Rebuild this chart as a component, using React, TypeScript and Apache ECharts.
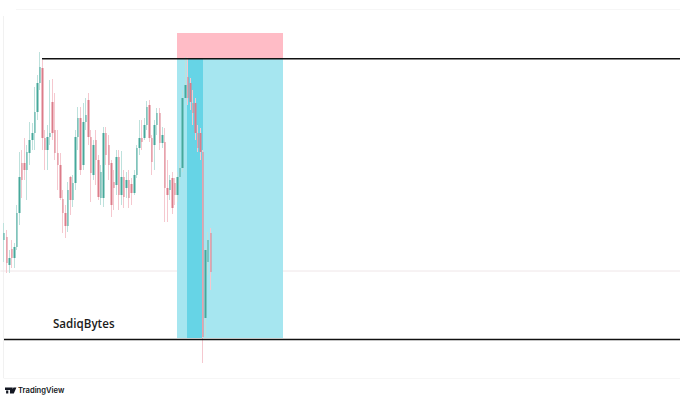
import React, { useEffect, useRef } from "react";
import * as echarts from "echarts";

// [open, close, low, high] for each session, in chart points
const candles: number[][] = [
  [160,167,138,177],[163,137,127,170],[135,142,127,150],[151,142,132,160],[142,153,132,157],
  [153,187,150,195],[187,223,175,248],[237,220,202,250],[237,230,220,262],[230,248,200,255],
  [247,260,235,278],[260,267,250,277],[267,288,250,313],[288,317,280,325],[317,333,310,348],
  [332,262,250,340],[262,250,230,270],[250,263,230,275],[263,267,255,320],[298,267,260,321],
  [270,247,240,307],[247,235,210,270],[235,202,200,247],[201,187,167,210],[187,174,162,195],
  [174,210,168,218],[223,200,185,224],[200,217,193,225],[217,263,210,270],[263,282,250,293],
  [282,230,225,293],[235,278,230,297],[278,285,270,302],[300,263,255,307],[263,227,198,270],
  [225,255,220,260],[260,240,215,270],[240,203,200,245],[202,228,195,235],[202,267,193,273],
  [267,245,235,273],[255,235,220,265],[237,195,183,240],[218,212,190,230],[215,243,205,250],
  [243,205,190,250],[205,223,195,249],[223,203,192,230],[212,220,202,228],[220,202,192,230],
  [216,207,195,222],[207,225,205,230],[225,252,222,255],[252,262,245,280],[262,258,250,280],
  [262,275,260,282],[275,293,270,299],[295,262,258,300],[262,238,225,265],[255,275,230,280],
  [275,287,265,292],[287,257,250,292],[257,265,252,273],[258,212,178,272],[212,205,178,240],
  [210,220,200,225],[222,192,186,228],[217,205,195,222],[205,223,198,228],[223,232,215,240],
  [232,302,228,310],[302,315,300,343],[323,302,295,343],[317,298,290,322],[297,287,275,310],
  [297,267,260,302],[267,252,248,275],[267,248,240,272],[248,63,37,250],[82,150,63,152],
  [138,160,125,168],[167,128,110,172],
];
const leadingEmpty = 1;
const totalSlots = 266;

// levels and zones (time position, price)
const resistance = 341.2;
const resistanceStart = 42;
const support = 60.5;
const supportStart = 4;
const lastPrice = 129;
const riskZone = { x0: 177, x1: 283, y0: 341, y1: 367 };
const rewardZone = { x0: 177, x1: 283, y0: 62, y1: 341 };
const entryZone = { x0: 187, x1: 203, y0: 62, y1: 341 };

const categories = Array.from({ length: totalSlots }, (_, i) => String(i));
const pad = (arr: any[]) => [
  ...Array(leadingEmpty).fill("-"),
  ...arr,
  ...Array(totalSlots - leadingEmpty - arr.length).fill("-"),
];

const wicks = pad(candles);
const bodies = pad(
  candles.map(([o, c]) => [o, c, Math.min(o, c), Math.max(o, c)])
);

const UP = "#46a89b";
const DOWN = "#dc7c8a";
const UP_WICK = "#bde1dc";
const DOWN_WICK = "#f5c8cf";

const LOGO =
  "M0 0H7V6H4.5V2.4H0Z M1 3H3V6H1Z M7.6 0H10.4L8 6H5.6Z";

echarts.graphic.registerShape(
  "tvLogo",
  echarts.graphic.extendPath(LOGO as any, {}) as any
);

const hLine = (x0: number, x1: number, y: number, color: string, width: number, order: number) => ({
  type: "line" as const,
  xAxisIndex: 1,
  yAxisIndex: 0,
  data: [[x0, y], [x1, y]],
  showSymbol: false,
  symbol: "none",
  silent: true,
  z: order,
  lineStyle: { color, width },
});

const zone = (z: { x0: number; x1: number; y0: number; y1: number }, color: string, order: number) => ({
  type: "line" as const,
  xAxisIndex: 1,
  yAxisIndex: 0,
  data: [],
  silent: true,
  z: order,
  markArea: {
    silent: true,
    itemStyle: { color, opacity: 1 },
    data: [[{ coord: [z.x0, z.y1] }, { coord: [z.x1, z.y0] }]],
  },
});

export default function App() {
  const ref = useRef<HTMLDivElement>(null);
  useEffect(() => {
    const chart = echarts.init(ref.current!, undefined, { renderer: "svg" });
    chart.setOption({
      animation: false,
      backgroundColor: "#ffffff",
      grid: { left: 0.4, top: 0, width: 678.3, height: 400 },
      xAxis: [
        { type: "category", data: categories, show: false, boundaryGap: true },
        { type: "value", min: 0.4, max: 678.7, show: false },
      ],
      yAxis: [{ type: "value", min: 0, max: 400, show: false }],
      graphic: [
        { type: "line", silent: true, shape: { x1: 3.5, y1: 16, x2: 3.5, y2: 378 }, style: { stroke: "#f1f1f1", lineWidth: 1 } },
        { type: "line", silent: true, shape: { x1: 16, y1: 9.5, x2: 680, y2: 9.5 }, style: { stroke: "#f6f6f6", lineWidth: 1 } },
        { type: "line", silent: true, shape: { x1: 3.5, y1: 378.5, x2: 680, y2: 378.5 }, style: { stroke: "#f6f6f6", lineWidth: 1 } },
        {
          type: "text",
          x: 53,
          y: 317.5,
          style: { text: "SadiqBytes", fill: "#1b1b1b", font: "600 11.6px 'Open Sans', sans-serif" },
        },
        {
          type: "tvLogo",
          x: 5,
          y: 387.5,
          scaleX: 1.1,
          scaleY: 1,
          style: { fill: "#131722" },
        },
        {
          type: "text",
          x: 18,
          y: 386,
          style: { text: "TradingView", fill: "#131722", font: "600 7.6px 'Inter', sans-serif" },
        },
      ],
      series: [
        hLine(0.4, 680, lastPrice, "#efe6e8", 1, 0),
        zone(rewardZone, "#a6e6f0", 1),
        zone(riskZone, "#ffbcc6", 1),
        zone(entryZone, "#66d4e6", 2),
        {
          type: "candlestick",
          xAxisIndex: 0,
          yAxisIndex: 0,
          barWidth: 1,
          z: 3,
          data: wicks,
          itemStyle: { color: UP_WICK, color0: DOWN_WICK, borderColor: UP_WICK, borderColor0: DOWN_WICK, borderWidth: 1 },
          silent: true,
        },
        {
          type: "candlestick",
          xAxisIndex: 0,
          yAxisIndex: 0,
          barWidth: 2,
          z: 4,
          data: bodies,
          itemStyle: { color: UP, color0: DOWN, borderColor: UP, borderColor0: DOWN, borderWidth: 0 },
          silent: true,
        },
        hLine(resistanceStart, 680, resistance, "#111111", 1.5, 6),
        hLine(supportStart, 680, support, "#111111", 1.5, 6),
      ],
    });
    return () => chart.dispose();
  }, []);
  return (
    <div
      ref={ref}
      style={{ position: "fixed", left: 0, top: 0, width: 680, height: 401 }}
    />
  );
}
